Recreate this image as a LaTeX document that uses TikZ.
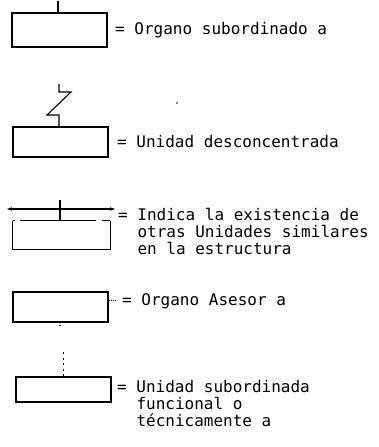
\documentclass[tikz,border=0pt]{standalone}
\usepackage{fontspec}
\setmonofont{DejaVu Sans Mono}
\usetikzlibrary{arrows.meta}
\begin{document}
\begin{tikzpicture}[x=1pt,y=-1pt,
  unitbox/.style={draw, line width=1.2pt, inner sep=0pt, rectangle},
  lbl/.style={anchor=base west, inner sep=0pt, font=\fontsize{16}{16}\selectfont\ttfamily},
  conn/.style={line width=1.1pt}]
\useasboundingbox (0,0) rectangle (378,447);
% 1
\node[unitbox, minimum width=95pt, minimum height=34pt] (b1) at (59.5,30) {};
\coordinate (s1) at (58,1);
\draw[conn] (s1) -- (s1 |- b1.north);
\node[lbl] (t1) at (115,34) {= Organo subordinado a};
% 2
\node[unitbox, minimum width=95pt, minimum height=30pt] (b2) at (60.5,142) {};
\coordinate (z1) at (59,84);
\coordinate (z2) at (59,92);
\coordinate (z3) at (71,92);
\coordinate (z4) at (47,115);
\coordinate (z5) at (59,115);
\draw[conn] (z1) -- (z2) -- (z3) -- (z4) -- (z5) -- (z5 |- b2.north);
\node[lbl] (t2) at (117,147) {= Unidad desconcentrada};
\fill (177,103) circle (0.9pt);
% 3
\node[inner sep=0pt, minimum width=97pt, minimum height=28pt] (b3) at (61.5,235) {};
\draw[line width=1.2pt] (b3.north west) -- (b3.south west) -- (b3.south east) -- (b3.north east);
\draw[line width=1.2pt, dash pattern=on 2pt off 5pt on 76pt off 6pt on 8pt] (b3.north west) -- (b3.north east);
\coordinate (a1) at (7,209);
\coordinate (a2) at (115,209);
\draw[conn, {Stealth[length=5pt,width=3.5pt]}-{Stealth[length=5pt,width=3.5pt]}] (a1) -- (a2);
\coordinate (s3) at (60,200);
\draw[conn] (s3) -- (s3 |- b3.north);
\node[lbl] (t3a) at (118,220) {= Indica la existencia de};
\node[lbl] (t3b) at (137.3,237) {otras Unidades similares};
\node[lbl] (t3c) at (137.3,254) {en la estructura};
% 4
\node[unitbox, minimum width=95pt, minimum height=30pt] (b4) at (60.5,307) {};
\coordinate (d4) at (115,300);
\draw[line width=1pt, densely dotted] (b4.east |- d4) -- (d4);
\node[lbl] (t4) at (122,305) {= Organo Asesor a};
\fill (60,325.5) circle (0.8pt);
% 5
\node[unitbox, minimum width=95pt, minimum height=25pt] (b5) at (63.5,389.5) {};
\coordinate (s5) at (63.5,352);
\draw[line width=1.5pt, dash pattern=on 2pt off 3.5pt] (s5) -- (s5 |- b5.north);
\node[lbl] (t5a) at (117,392) {= Unidad subordinada};
\node[lbl] (t5b) at (136.3,409) {funcional o};
\node[lbl] (t5c) at (136.3,426) {técnicamente a};
\end{tikzpicture}
\end{document}
